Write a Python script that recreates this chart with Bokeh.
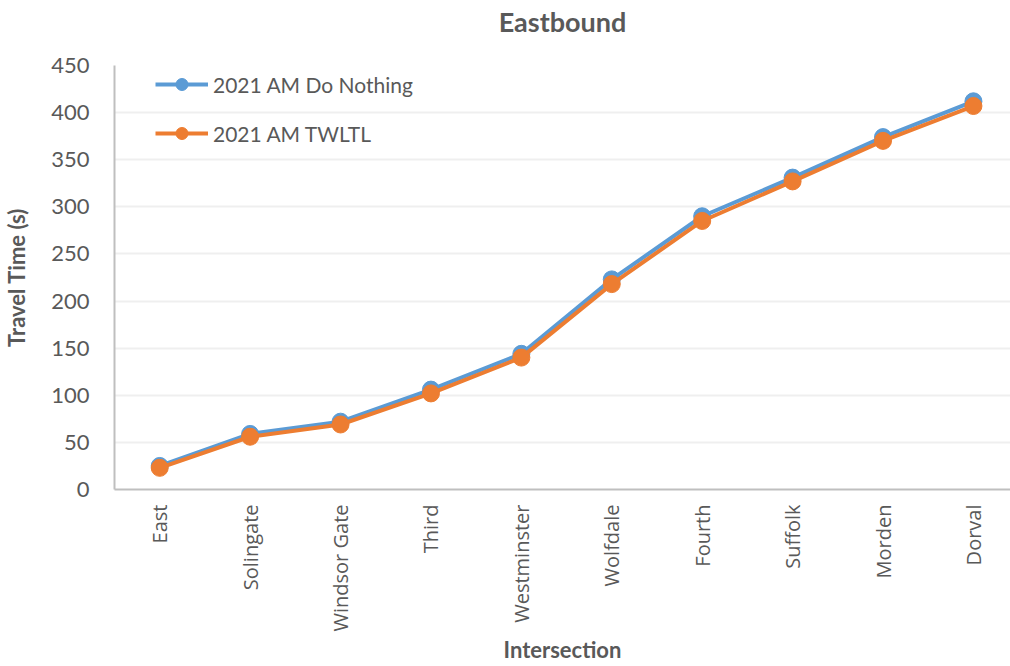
from bokeh.plotting import figure
from bokeh.models import Range1d, FixedTicker, Legend, LegendItem, LinearAxis
from bokeh.embed import file_html
from bokeh.resources import INLINE

# Intersections along the eastbound corridor
intersections = ["East", "Solingate", "Windsor Gate", "Third", "Westminster",
                 "Wolfdale", "Fourth", "Suffolk", "Morden", "Dorval"]

# Cumulative travel time (s)
do_nothing = [25, 59, 72, 106, 144, 223, 290, 331, 374, 412]
twltl = [23, 56, 69, 102, 140, 218, 285, 327, 370, 407]

y_ticks = [0, 50, 100, 150, 200, 250, 300, 350, 400, 450]

x_pos = list(range(len(intersections)))

FONT = "Lato"
TEXT = "#595959"

p = figure(width=1010, height=666, output_backend="svg", toolbar_location=None,
           x_range=Range1d(-0.5, 9.41), y_range=Range1d(0, 450),
           min_border_left=113, min_border_right=0, min_border_top=65,
           min_border_bottom=177)

p.outline_line_color = None
p.xgrid.grid_line_color = None
p.ygrid.grid_line_color = "#efefef"
p.ygrid.grid_line_width = 2

# y axis
p.yaxis.ticker = FixedTicker(ticks=y_ticks)
p.yaxis.axis_label = "Travel Time (s)"
p.yaxis.axis_label_text_font = FONT
p.yaxis.axis_label_text_font_size = "22px"
p.yaxis.axis_label_text_font_style = "bold"
p.yaxis.axis_label_text_color = TEXT
p.yaxis.axis_label_standoff = 18
p.yaxis.major_label_text_font = FONT
p.yaxis.major_label_text_font_size = "22px"
p.yaxis.major_label_text_color = TEXT
p.yaxis.major_label_standoff = 19
p.yaxis.axis_line_color = "#bfbfbf"
p.yaxis.axis_line_width = 2
p.yaxis.major_tick_line_color = None
p.yaxis.minor_tick_line_color = None

# x axis with intersection names
xax = p.below[0]
xax.ticker = FixedTicker(ticks=x_pos)
xax.major_label_overrides = {i: name for i, name in enumerate(intersections)}
xax.major_label_orientation = 1.5707963
xax.axis_label = "Intersection"
xax.axis_label_text_font = FONT
xax.axis_label_text_font_size = "22px"
xax.axis_label_text_font_style = "bold"
xax.axis_label_text_color = TEXT
xax.axis_label_standoff = 2
xax.major_label_text_font = "Open Sans"
xax.major_label_text_font_size = "20px"
xax.major_label_text_color = TEXT
xax.major_label_standoff = 9
xax.axis_line_color = "#bfbfbf"
xax.axis_line_width = 2
xax.major_tick_line_color = None
xax.minor_tick_line_color = None

# chart title, carried by a bare axis along the top edge
title_axis = LinearAxis(ticker=FixedTicker(ticks=[]), axis_label="Eastbound")
title_axis.axis_line_color = None
title_axis.major_tick_line_color = None
title_axis.minor_tick_line_color = None
title_axis.major_label_text_font_size = "0px"
title_axis.major_label_standoff = 0
title_axis.axis_label_text_font = FONT
title_axis.axis_label_text_font_size = "27px"
title_axis.axis_label_text_font_style = "bold"
title_axis.axis_label_text_color = TEXT
title_axis.axis_label_standoff = 28
p.add_layout(title_axis, "above")

BLUE = "#5B9BD5"
ORANGE = "#ED7D31"

l1 = p.line(x_pos, do_nothing, line_color=BLUE, line_width=4)
s1 = p.scatter(x_pos, do_nothing, size=17, fill_color=BLUE, line_color=BLUE)
l2 = p.line(x_pos, twltl, line_color=ORANGE, line_width=4)
s2 = p.scatter(x_pos, twltl, size=17, fill_color=ORANGE, line_color=ORANGE)

legend = Legend(items=[
    LegendItem(label="2021 AM Do Nothing", renderers=[l1, s1]),
    LegendItem(label="2021 AM TWLTL", renderers=[l2, s2]),
], location=(41, 341))
legend.label_text_font = FONT
legend.label_text_font_size = "21px"
legend.label_text_color = TEXT
legend.glyph_width = 53
legend.glyph_height = 30
legend.label_height = 30
legend.label_standoff = 5
legend.spacing = 19
legend.padding = 5
legend.margin = 0
legend.border_line_color = None
legend.background_fill_alpha = 0
p.add_layout(legend, "center")

open("out.html", "w").write(file_html(p, INLINE))
